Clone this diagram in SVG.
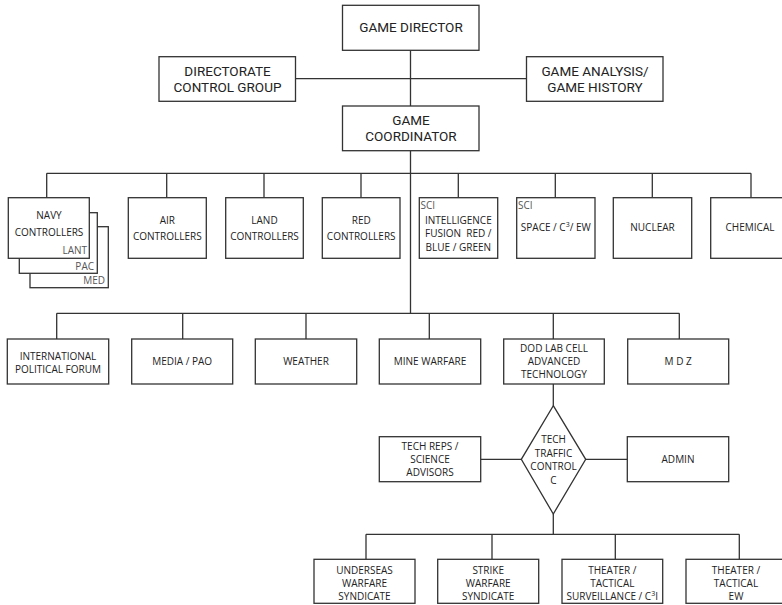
<svg xmlns="http://www.w3.org/2000/svg" width="782" height="605" viewBox="0 0 782 605">
  <style>
    .box { fill: #ffffff; stroke: #333333; stroke-width: 1.3; }
    .wire { fill: none; stroke: #333333; stroke-width: 1.3; }
    text { font-family: "Open Sans", "Noto Sans", "Liberation Sans", sans-serif; fill: #222222; text-anchor: middle; }
    .big { font-family: Roboto, "Open Sans", "Liberation Sans", sans-serif; font-size: 13.5px; }
    .sm { font-size: 10px; }
    .tag { font-size: 10px; fill: #555555; }
    .left { text-anchor: start; }
    .right { text-anchor: end; }
  </style>
  <rect width="782" height="605" fill="#ffffff"/>

  <!-- connectors -->
  <g id="connectors" class="wire">
    <path d="M410.5 50.3 V106 M410.5 150.7 V313.3"/>
    <path d="M295.5 78.7 H526.5"/>
    <path d="M46.7 173.3 H751 M46.7 173.3 V197.7 M166.7 173.3 V197.7 M264 173.3 V197.7 M361 173.3 V197.7 M458.3 173.3 V197.7 M555.3 173.3 V197.7 M652.3 173.3 V197.7 M751 173.3 V197.7"/>
    <path d="M56.7 313.3 H679.3 M56.7 313.3 V339 M182.7 313.3 V339 M306 313.3 V339 M429.3 313.3 V339 M553.3 313.3 V339 M679.3 313.3 V339"/>
    <path d="M553.3 384 V405.7"/>
    <path d="M480.7 459.3 H521.3 M585.7 459.3 H627.3"/>
    <path d="M553.3 514 V534.3"/>
    <path d="M366 534.3 H739.3 M366 534.3 V559.3 M492 534.3 V559.3 M615.3 534.3 V559.3 M739.3 534.3 V559.3"/>
  </g>

  <!-- top tier -->
  <g id="game-director">
    <rect class="box" x="342.5" y="5.3" width="136.5" height="45"/>
    <text class="big" x="411" y="32">GAME DIRECTOR</text>
  </g>
  <g id="directorate-control-group">
    <rect class="box" x="159" y="56.7" width="136.5" height="44.6"/>
    <text class="big" x="227.5" y="76">DIRECTORATE</text>
    <text class="big" x="227.5" y="91.5">CONTROL GROUP</text>
  </g>
  <g id="game-analysis">
    <rect class="box" x="526.5" y="56.7" width="136.5" height="44.6"/>
    <text class="big" x="595" y="76">GAME ANALYSIS/</text>
    <text class="big" x="595" y="91.5">GAME HISTORY</text>
  </g>
  <g id="game-coordinator">
    <rect class="box" x="342.5" y="106" width="136.5" height="44.7"/>
    <text class="big" x="411" y="125">GAME</text>
    <text class="big" x="411" y="140.5">COORDINATOR</text>
  </g>

  <!-- controller row -->
  <g id="navy-controllers">
    <rect class="box" x="30" y="226.7" width="78.3" height="61"/>
    <rect class="box" x="19.3" y="212.7" width="78" height="60.6"/>
    <rect class="box" x="8.3" y="197.7" width="81" height="60.6"/>
    <text class="sm" x="49" y="218.5">NAVY</text>
    <text class="sm" x="49" y="235.5">CONTROLLERS</text>
    <text class="tag right" x="87" y="254">LANT</text>
    <text class="tag right" x="94" y="269.5">PAC</text>
    <text class="tag right" x="105" y="283.5">MED</text>
  </g>
  <g id="air-controllers">
    <rect class="box" x="128.3" y="197.7" width="78" height="60.6"/>
    <text class="sm" x="167.3" y="223.5">AIR</text>
    <text class="sm" x="167.3" y="240">CONTROLLERS</text>
  </g>
  <g id="land-controllers">
    <rect class="box" x="225.7" y="197.7" width="77.6" height="60.6"/>
    <text class="sm" x="264.5" y="223.5">LAND</text>
    <text class="sm" x="264.5" y="240">CONTROLLERS</text>
  </g>
  <g id="red-controllers">
    <rect class="box" x="322.3" y="197.7" width="77.7" height="60.6"/>
    <text class="sm" x="361.2" y="223.5">RED</text>
    <text class="sm" x="361.2" y="240">CONTROLLERS</text>
  </g>
  <g id="intelligence-fusion">
    <rect class="box" x="419.3" y="197.7" width="78.4" height="60.6"/>
    <text class="tag left" x="420.5" y="209">SCI</text>
    <text class="sm" x="458.3" y="223.5">INTELLIGENCE</text>
    <text class="sm" x="458.3" y="236.5" xml:space="preserve">FUSION  RED /</text>
    <text class="sm" x="458.3" y="250.5">BLUE / GREEN</text>
  </g>
  <g id="space-c3-ew">
    <rect class="box" x="516.7" y="197.7" width="78.3" height="60.6"/>
    <text class="tag left" x="518" y="209">SCI</text>
    <text class="sm" x="555.8" y="231">SPACE / C<tspan font-size="7" dy="-4">3</tspan><tspan dy="4">/ EW</tspan></text>
  </g>
  <g id="nuclear">
    <rect class="box" x="613.3" y="197.7" width="78.4" height="60.6"/>
    <text class="sm" x="652.5" y="231">NUCLEAR</text>
  </g>
  <g id="chemical">
    <rect class="box" x="710.7" y="197.7" width="78.3" height="60.6"/>
    <text class="sm" x="750" y="231">CHEMICAL</text>
  </g>

  <!-- support row -->
  <g id="international-political-forum">
    <rect class="box" x="7.3" y="339" width="101.4" height="45"/>
    <text class="sm" x="58" y="359.5">INTERNATIONAL</text>
    <text class="sm" x="58" y="373">POLITICAL FORUM</text>
  </g>
  <g id="media-pao">
    <rect class="box" x="131.7" y="339" width="101" height="45"/>
    <text class="sm" x="182.2" y="365.3">MEDIA / PAO</text>
  </g>
  <g id="weather">
    <rect class="box" x="255.3" y="339" width="101.4" height="45"/>
    <text class="sm" x="306" y="365.3">WEATHER</text>
  </g>
  <g id="mine-warfare">
    <rect class="box" x="379.3" y="339" width="101.4" height="45"/>
    <text class="sm" x="430" y="365.3">MINE WARFARE</text>
  </g>
  <g id="dod-lab-cell">
    <rect class="box" x="503.7" y="339" width="100.6" height="45"/>
    <text class="sm" x="554" y="351.5">DOD LAB CELL</text>
    <text class="sm" x="554" y="365">ADVANCED</text>
    <text class="sm" x="554" y="378.3">TECHNOLOGY</text>
  </g>
  <g id="mdz">
    <rect class="box" x="627.7" y="339" width="101" height="45"/>
    <text class="sm" x="678.2" y="365.3">M D Z</text>
  </g>

  <!-- tech traffic control -->
  <g id="tech-reps">
    <rect class="box" x="379.3" y="436.7" width="101.4" height="45"/>
    <text class="sm" x="430" y="449.5">TECH REPS /</text>
    <text class="sm" x="430" y="462.5">SCIENCE</text>
    <text class="sm" x="430" y="476">ADVISORS</text>
  </g>
  <g id="tech-traffic-control">
    <polygon class="box" points="553.3,405.7 585.7,459.3 553.3,514 521.3,459.3"/>
    <text class="sm" x="553.5" y="443">TECH</text>
    <text class="sm" x="553.5" y="456.5">TRAFFIC</text>
    <text class="sm" x="553.5" y="470">CONTROL</text>
    <text class="sm" x="553.5" y="483.5">C</text>
  </g>
  <g id="admin">
    <rect class="box" x="627.3" y="436.7" width="101.4" height="45"/>
    <text class="sm" x="678" y="463">ADMIN</text>
  </g>

  <!-- syndicates -->
  <g id="undersea-warfare">
    <rect class="box" x="314" y="559.3" width="101" height="44"/>
    <text class="sm" x="364.5" y="573.5">UNDERSEAS</text>
    <text class="sm" x="364.5" y="586.5">WARFARE</text>
    <text class="sm" x="364.5" y="600">SYNDICATE</text>
  </g>
  <g id="strike-warfare">
    <rect class="box" x="437.7" y="559.3" width="101" height="44"/>
    <text class="sm" x="488.2" y="573.5">STRIKE</text>
    <text class="sm" x="488.2" y="586.5">WARFARE</text>
    <text class="sm" x="488.2" y="600">SYNDICATE</text>
  </g>
  <g id="theater-surveillance">
    <rect class="box" x="562" y="559.3" width="100.7" height="44"/>
    <text class="sm" x="612.3" y="573.5">THEATER /</text>
    <text class="sm" x="612.3" y="586.5">TACTICAL</text>
    <text class="sm" x="612.3" y="600">SURVEILLANCE / C<tspan font-size="7" dy="-4">3</tspan><tspan dy="4">I</tspan></text>
  </g>
  <g id="theater-ew">
    <rect class="box" x="686" y="559.3" width="101" height="44"/>
    <text class="sm" x="736" y="573.5">THEATER /</text>
    <text class="sm" x="736" y="586.5">TACTICAL</text>
    <text class="sm" x="736" y="600">EW</text>
  </g>
</svg>
